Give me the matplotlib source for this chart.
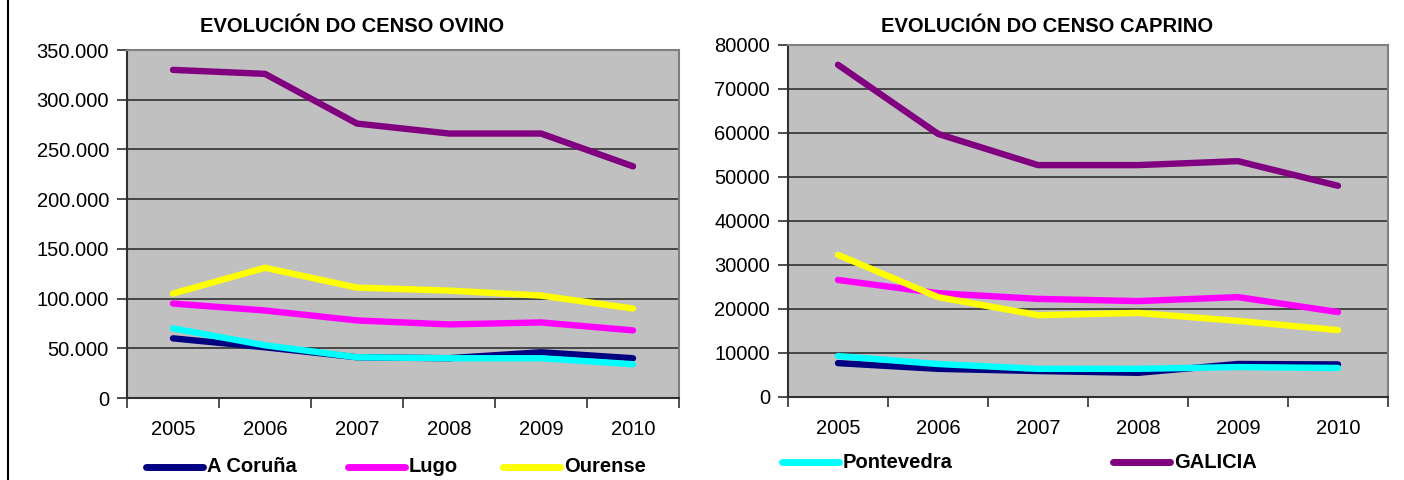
import matplotlib.pyplot as plt
import numpy as np
from matplotlib.lines import Line2D
from matplotlib.ticker import FuncFormatter, FixedLocator

plt.rcParams['font.family'] = ['Liberation Sans', 'DejaVu Sans']

years = ['2005', '2006', '2007', '2008', '2009', '2010']
provincias = ['A Coruña', 'Lugo', 'Ourense', 'Pontevedra', 'GALICIA']
cores = ['#000080', '#FF00FF', '#FFFF00', '#00FFFF', '#800080']

# censo ovino
ovino_coruna = [60000, 51000, 41000, 40000, 46000, 40000]
ovino_lugo = [95000, 88000, 78000, 74000, 76000, 68000]
ovino_ourense = [105000, 131000, 111000, 108000, 103000, 90000]
ovino_pontevedra = [70000, 53000, 41000, 40000, 40000, 34000]
ovino_galicia = [330000, 326000, 276000, 266000, 266000, 233000]

# censo caprino
caprino_coruna = [7700, 6400, 5900, 5500, 7500, 7400]
caprino_lugo = [26600, 23600, 22300, 21800, 22700, 19300]
caprino_ourense = [32300, 22700, 18600, 19100, 17300, 15200]
caprino_pontevedra = [9300, 7500, 6400, 6400, 6800, 6600]
caprino_galicia = [75500, 59800, 52700, 52700, 53600, 48000]

ovino = [ovino_coruna, ovino_lugo, ovino_ourense, ovino_pontevedra, ovino_galicia]
caprino = [caprino_coruna, caprino_lugo, caprino_ourense, caprino_pontevedra, caprino_galicia]

W, H = 1404, 480
fig = plt.figure(figsize=(W / 100, H / 100), dpi=100)
fig.patch.set_facecolor('white')

ax1 = fig.add_axes([127 / W, 1 - 398 / H, 552 / W, 348 / H])
ax2 = fig.add_axes([788 / W, 1 - 397 / H, 600 / W, 352 / H])


def style_axes(ax, series, ymax, step, fmt):
    x = np.arange(len(years))
    ax.set_facecolor('#C0C0C0')
    for vals, c in zip(series, cores):
        ax.plot(x, vals, color=c, lw=4.6, solid_capstyle='round', solid_joinstyle='round')
    ax.set_xlim(-0.5, len(years) - 0.5)
    ax.set_ylim(0, ymax)
    ax.set_yticks(np.arange(0, ymax + 1, step))
    ax.yaxis.set_major_formatter(FuncFormatter(fmt))
    ax.grid(axis='y', color='#303030', lw=1.2)
    ax.set_axisbelow(True)
    ax.set_xticks(x)
    ax.set_xticklabels(years)
    ax.tick_params(axis='x', which='major', length=0, pad=16, labelsize=14.5)
    ax.xaxis.set_minor_locator(FixedLocator(np.arange(-0.5, len(years), 1.0)))
    ax.tick_params(axis='x', which='minor', length=7, width=1.2, color='#303030', direction='out')
    ax.tick_params(axis='y', length=7, width=1.2, color='#303030', pad=6, labelsize=14.5)
    for s in ['left', 'bottom']:
        ax.spines[s].set_color('#303030')
        ax.spines[s].set_linewidth(1.5)
    for s in ['right', 'top']:
        ax.spines[s].set_color('#808080')
        ax.spines[s].set_linewidth(1.5)


style_axes(ax1, ovino, 350000, 50000,
           lambda v, p: '0' if v == 0 else f'{int(v):,}'.replace(',', '.'))
style_axes(ax2, caprino, 80000, 10000, lambda v, p: f'{int(v)}')

fig.text(352 / W, 1 - 26 / H, 'EVOLUCIÓN DO CENSO OVINO', ha='center', va='center',
         fontsize=14.5, fontweight='bold')
fig.text(1047 / W, 1 - 26 / H, 'EVOLUCIÓN DO CENSO CAPRINO', ha='center', va='center',
         fontsize=14.5, fontweight='bold')

# lenda: posición (px) de cada entrada
leg_pos = [(146, 467), (348, 467), (503, 467), (782, 462), (1113, 462)]
for (px, py), name, c in zip(leg_pos, provincias, cores):
    y = 1 - py / H
    fig.add_artist(Line2D([px / W, (px + 57) / W], [y, y], color=c, lw=5,
                          solid_capstyle='round'))
    fig.text((px + 61) / W, y, name, ha='left', va='center',
             fontsize=14.5, fontweight='bold')

# borde esquerdo do gráfico
fig.add_artist(Line2D([8 / W, 8 / W], [0, 1], color='black', lw=1.5))

fig.savefig('out.png', dpi=100)
